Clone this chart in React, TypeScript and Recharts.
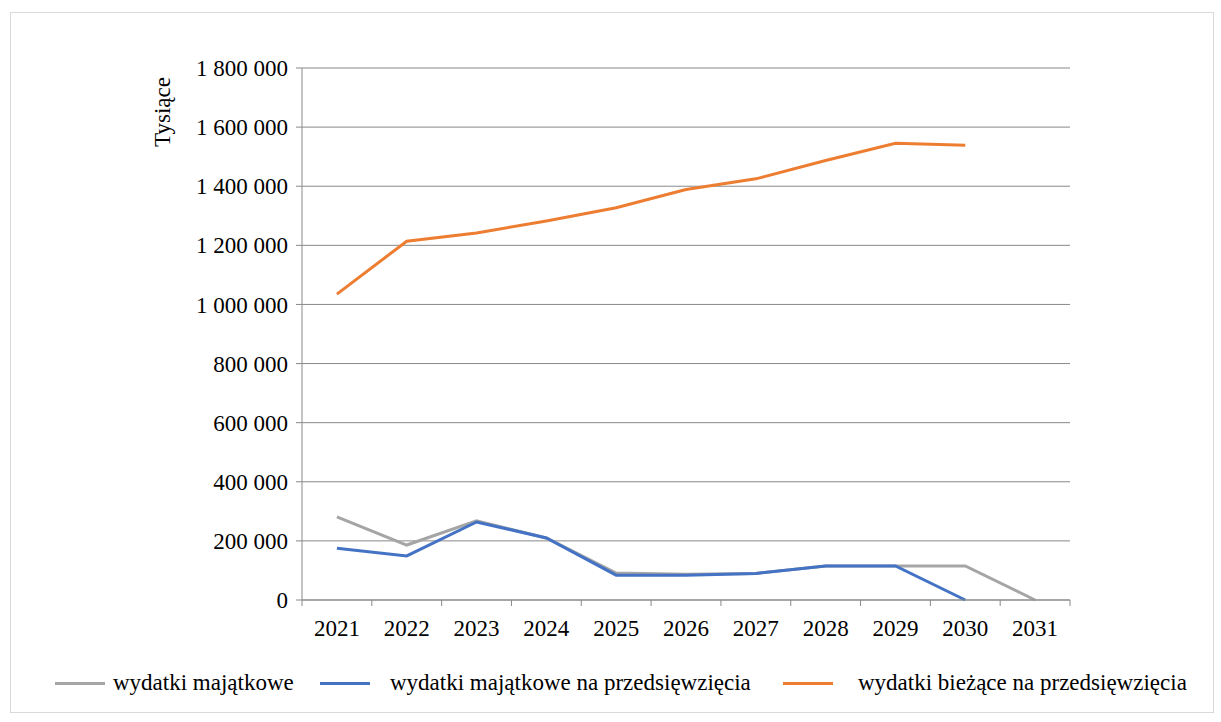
import React from 'react';
import { LineChart, Line, XAxis, YAxis, CartesianGrid } from 'recharts';

const years = ['2021', '2022', '2023', '2024', '2025', '2026', '2027', '2028', '2029', '2030', '2031'];
const majatkowe = [281000, 186000, 268000, 210000, 91000, 87000, 90000, 115000, 115000, 115000, 0];
const majatkowePrzedsiewziecia = [175000, 149000, 264000, 210000, 84000, 84000, 90000, 115000, 115000, 0, null];
const biezacePrzedsiewziecia = [1035000, 1214000, 1242000, 1282000, 1327000, 1389000, 1425000, 1487000, 1545000, 1539000, null];
const yTicks = [0, 200000, 400000, 600000, 800000, 1000000, 1200000, 1400000, 1600000, 1800000];

const data = years.map((year, i) => ({
  year,
  majatkowe: majatkowe[i],
  majatkowePrz: majatkowePrzedsiewziecia[i],
  biezacePrz: biezacePrzedsiewziecia[i],
}));

const FONT = "'Liberation Serif', 'Times New Roman', Tinos, 'DejaVu Serif', serif";
const FS = 23;
const GRID = '#898989';
const W = 1221;
const H = 722;
const margin = { top: 68, right: 151, left: 162, bottom: 92 };
const yAxisWidth = 140;
const plotWidth = W - margin.left - yAxisWidth - margin.right;
const band = plotWidth / years.length;

const fmt = (v: number) => String(v).replace(/\B(?=(\d{3})+(?!\d))/g, ' ');

const XTick = (props: any) => {
  const { x, y, payload, index } = props;
  const last = index === years.length - 1;
  return (
    <g>
      <line x1={x - band / 2} x2={x - band / 2} y1={y - 8} y2={y - 2} stroke={GRID} />
      {last && <line x1={x + band / 2} x2={x + band / 2} y1={y - 8} y2={y - 2} stroke={GRID} />}
      <text x={x} y={636} textAnchor="middle" style={{ fontSize: FS, fontFamily: FONT }} fill="#000">
        {payload.value}
      </text>
    </g>
  );
};

const YTick = (props: any) => {
  const { x, y, payload } = props;
  return (
    <text x={x} y={y} dy="0.355em" textAnchor="end" style={{ fontSize: FS, fontFamily: FONT }} fill="#000">
      {fmt(payload.value)}
    </text>
  );
};

const legendItems = [
  { label: 'wydatki majątkowe', color: '#A5A5A5', lineX: 55, textX: 113 },
  { label: 'wydatki majątkowe na przedsięwzięcia', color: '#4472C4', lineX: 320, textX: 390 },
  { label: 'wydatki bieżące na przedsięwzięcia', color: '#ED7D31', lineX: 783, textX: 858 },
];

export default function App() {
  return (
    <div style={{ position: 'absolute', left: 0, top: 0, width: W, height: H, background: '#fff', fontFamily: FONT }}>
      <div
        style={{
          position: 'absolute',
          left: 10,
          top: 12,
          width: 1202,
          height: 699,
          border: '1px solid #d9d9d9',
        }}
      />
      <div style={{ position: 'absolute', left: 0, top: 0 }}>
        <LineChart width={W} height={H} data={data} margin={margin}>
          <CartesianGrid vertical={false} stroke={GRID} strokeWidth={1} />
          <XAxis
            dataKey="year"
            scale="band"
            axisLine={{ stroke: GRID }}
            tickLine={false}
            tick={<XTick />}
            interval={0}
            height={30}
          />
          <YAxis
            width={yAxisWidth}
            domain={[0, 1800000]}
            ticks={yTicks}
            interval={0}
            axisLine={{ stroke: GRID }}
            tickLine={{ stroke: GRID }}
            tickSize={6}
            tickMargin={8}
            tick={<YTick />}
          />
          <Line
            dataKey="majatkowe"
            stroke="#A5A5A5"
            strokeWidth={3}
            dot={false}
            isAnimationActive={false}
          />
          <Line
            dataKey="majatkowePrz"
            stroke="#4472C4"
            strokeWidth={3}
            dot={false}
            isAnimationActive={false}
          />
          <Line
            dataKey="biezacePrz"
            stroke="#ED7D31"
            strokeWidth={3}
            dot={false}
            isAnimationActive={false}
          />
          <text
            x={170}
            y={112}
            transform="rotate(-90, 170, 112)"
            textAnchor="middle"
            style={{ fontSize: FS, fontFamily: FONT }}
            fill="#000"
          >
            Tysiące
          </text>
        </LineChart>
      </div>
      {legendItems.map((item) => (
        <React.Fragment key={item.label}>
          <div
            style={{
              position: 'absolute',
              left: item.lineX,
              top: 682,
              width: 50,
              height: 3,
              background: item.color,
            }}
          />
          <div
            style={{
              position: 'absolute',
              left: item.textX,
              top: 670,
              fontSize: FS,
              lineHeight: '26px',
              color: '#000',
              whiteSpace: 'nowrap',
            }}
          >
            {item.label}
          </div>
        </React.Fragment>
      ))}
    </div>
  );
}
